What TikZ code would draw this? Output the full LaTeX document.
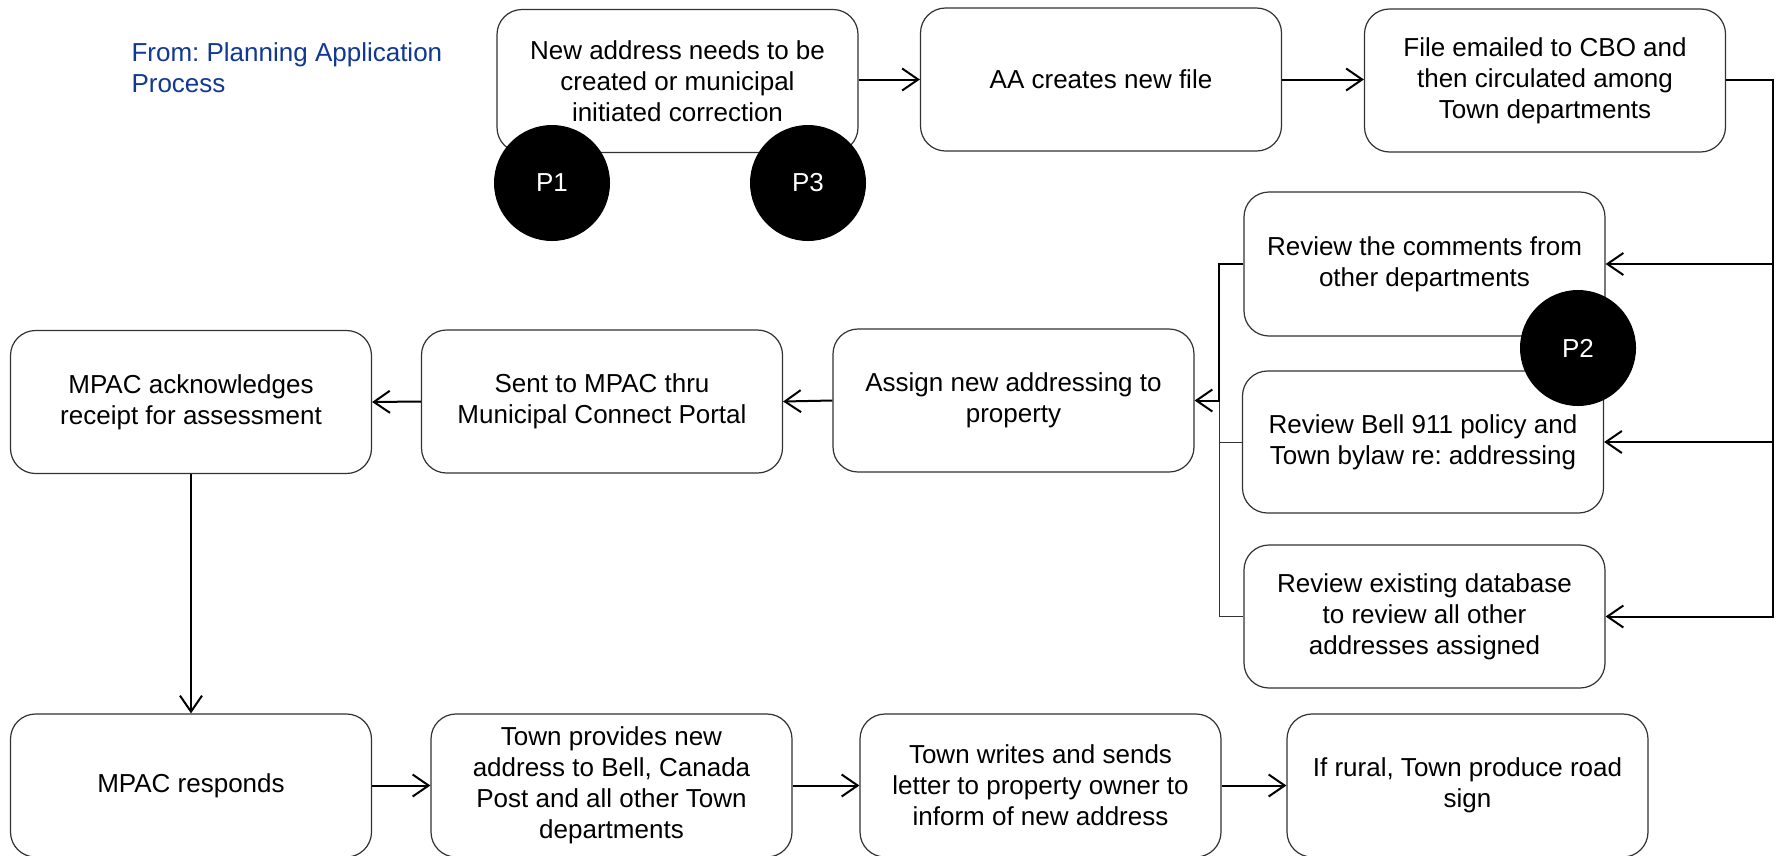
\documentclass[tikz,border=0pt]{standalone}
\usepackage{fontspec}
\setmainfont{Liberation Sans}
\usetikzlibrary{arrows.meta}
\definecolor{fromblue}{RGB}{16,56,148}
\definecolor{boxline}{RGB}{50,50,50}
\frenchspacing
\tikzset{
  procbox/.style={draw=boxline, line width=1.2pt, rounded corners=25pt,
    minimum width=361pt, minimum height=143pt, align=center, inner sep=0pt,
    font=\fontsize{26}{31}\selectfont},
  pcircle/.style={circle, fill=black, minimum size=116pt, inner sep=0pt,
    text=white, font=\fontsize{26}{31}\selectfont},
  arr/.style={line width=2pt, -{Straight Barb[length=16pt,width=22pt,line width=2pt]}},
  thinline/.style={line width=1pt, draw=boxline}
}
\begin{document}
\begin{tikzpicture}[x=1pt,y=-1pt]
\useasboundingbox (0,0) rectangle (1777,855);
\fill[white] (0,0) rectangle (1777,855);

\node[anchor=base west, align=left, text=fromblue, font=\fontsize{26}{31}\selectfont\frenchspacing] (from) at (128,92) {From: Planning Application\\Process};

\node[procbox] (n1) at (677.5,81) {New address needs to be\\created or municipal\\initiated correction};
\node[procbox] (n2) at (1101,79.5) {AA creates new file};
\node[procbox] (n3) at (1545,80.5) {File emailed to CBO and\\then circulated among\\Town departments};

\node[procbox, minimum height=144pt] (ra) at (1424.5,264) {Review the comments from\\other departments};
\node[procbox, minimum height=142pt] (rb) at (1423,442) {Review Bell 911 policy and\\Town bylaw re: addressing};
\node[procbox] (rc) at (1424.5,616.5) {Review existing database\\to review all other\\addresses assigned};

\node[procbox] (assign) at (1013.5,400.5) {Assign new addressing to\\property};
\node[procbox] (sent) at (602,401.5) {Sent to MPAC thru\\Municipal Connect Portal};
\node[procbox] (ack) at (191,402) {MPAC acknowledges\\receipt for assessment};

\node[procbox] (resp) at (191,785.5) {MPAC responds};
\node[procbox] (prov) at (611.5,785.5) {Town provides new\\address to Bell, Canada\\Post and all other Town\\departments};
\node[procbox] (writes) at (1040.5,785.5) {Town writes and sends\\letter to property owner to\\inform of new address};
\node[procbox] (rural) at (1467.5,785.5) {If rural, Town produce road\\sign};

% circles
\node[pcircle] (p1) at (552,183) {P1};
\node[pcircle] (p3) at (808,183) {P3};
\node[pcircle] (p2) at (1578,348) {P2};

% top row arrows
\draw[arr] (n1.east |- n2.east) -- (n2.west);
\draw[arr] (n2.east) -- (n3.west |- n2.east);

% right distribution line
\coordinate (R) at (1773,0);
\draw[arr] (n3.east |- n2.east) -- (n2.east -| R) |- (ra.east);
\draw[arr] (n3.east |- n2.east) -- (n2.east -| R) |- (rb.east);
\draw[arr] (n3.east |- n2.east) -- (n2.east -| R) |- (rc.east);

% left bracket
\coordinate (L) at (1219,0);
\draw[thinline] (rb.west) -| (L |- assign.east);
\draw[thinline] (rc.west) -| (L |- assign.east);
\draw[arr] (ra.west) -| (L |- assign.east) -- (assign.east);

% middle row
\draw[arr] (assign.west) -- (sent.east);
\draw[arr] (sent.west) -- (ack.east);
\draw[arr] (ack.south) -- (resp.north);

% bottom row
\draw[arr] (resp.east) -- (prov.west);
\draw[arr] (prov.east) -- (writes.west);
\draw[arr] (writes.east) -- (rural.west);
\end{tikzpicture}
\end{document}
